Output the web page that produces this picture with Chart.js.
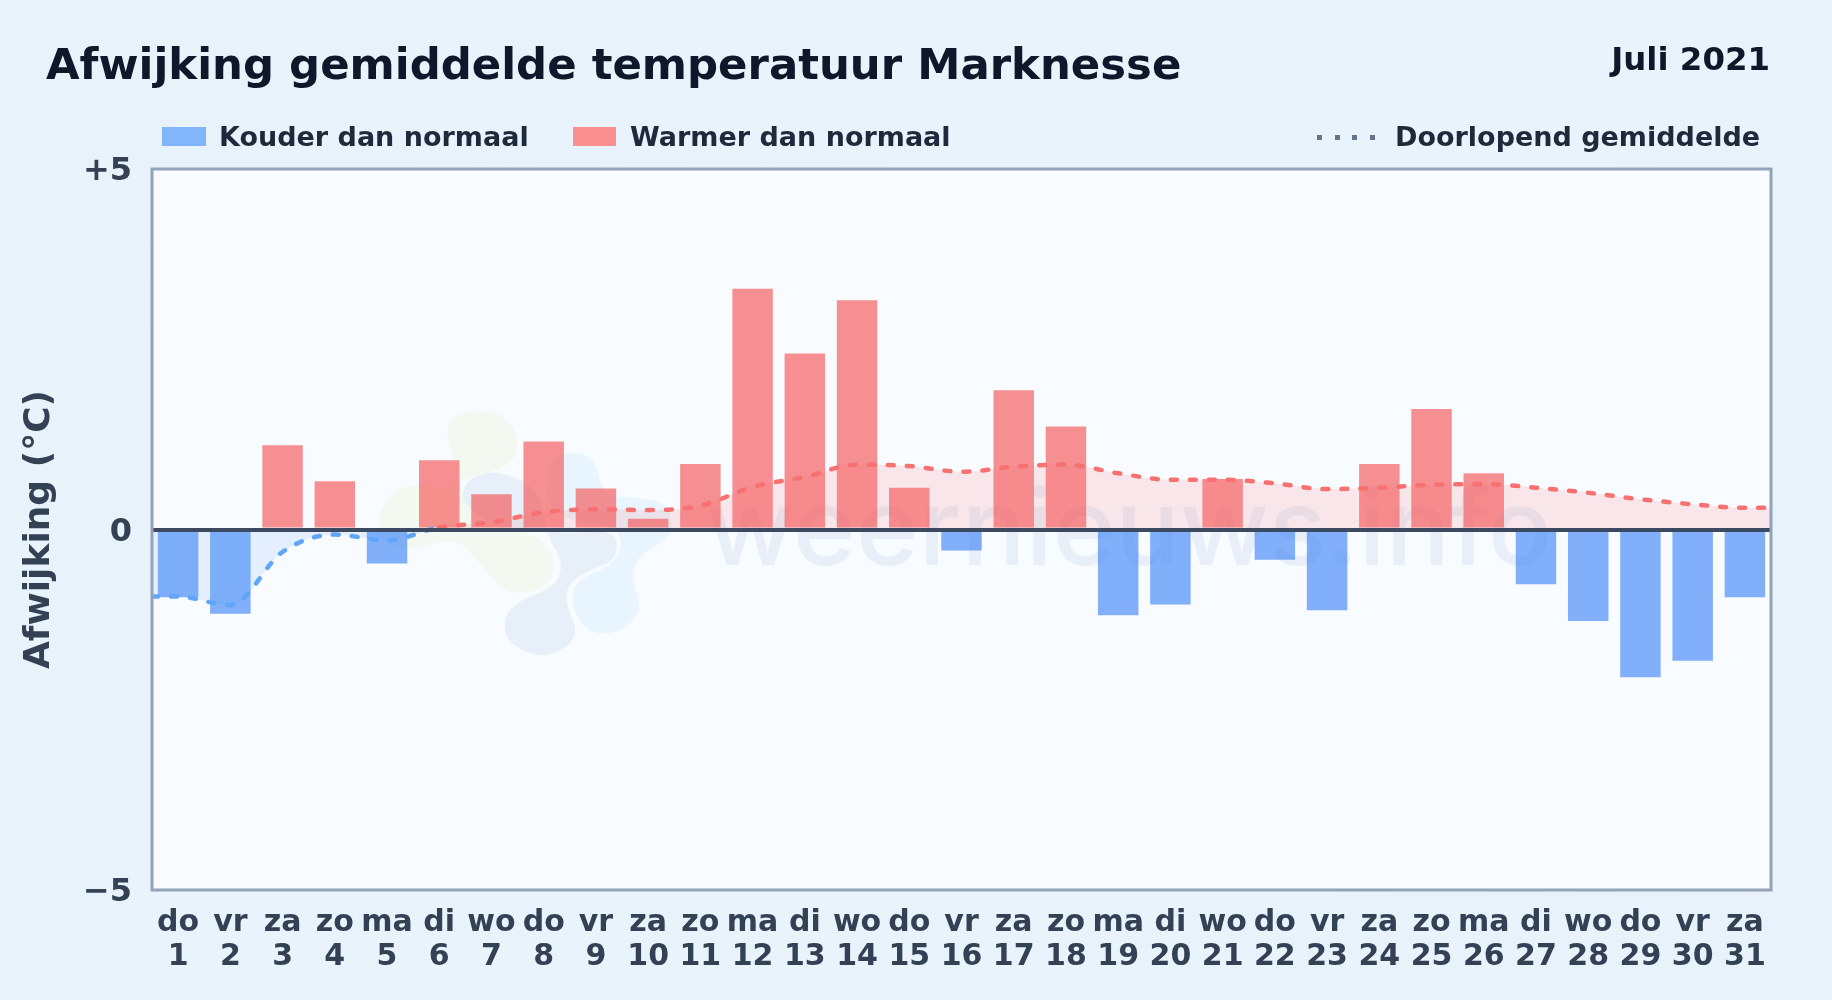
<!DOCTYPE html>
<html lang="nl">
<head>
<meta charset="utf-8">
<title>Afwijking gemiddelde temperatuur Marknesse</title>
<script src="https://cdn.jsdelivr.net/npm/chart.js@4"></script>
<style>
html,body{margin:0;padding:0;width:1832px;height:1000px;overflow:hidden;background:linear-gradient(135deg,#e7f2fb 0%,#e8f3fc 50%,#e7f2fb 100%);}
body{font-family:"DejaVu Sans",sans-serif;font-weight:700;position:relative;}
#wrap{position:absolute;left:0;top:0;width:1832px;height:1000px;}
.t{position:absolute;line-height:1;white-space:nowrap;}
.sw{position:absolute;}
#dots{position:absolute;left:1317px;top:135px;width:58px;height:5px;background:repeating-linear-gradient(90deg,#64748b 0 5px,transparent 5px 17.6px);}
</style>
</head>
<body>
<div id="wrap"><canvas id="c" width="1832" height="1000"></canvas></div>
<div class="t" style="left:46px;top:43px;font-size:43.4px;color:#0f172a">Afwijking gemiddelde temperatuur Marknesse</div>
<div class="t" style="right:62px;top:43px;font-size:32.4px;color:#0f172a">Juli 2021</div>
<div class="sw" style="left:162px;top:127px;width:44px;height:19px;background:#82b6fb"></div>
<div class="t" style="left:219px;top:123px;font-size:27px;color:#1e293b">Kouder dan normaal</div>
<div class="sw" style="left:573px;top:127px;width:43px;height:19px;background:#f98f90"></div>
<div class="t" style="left:630px;top:123px;font-size:27px;color:#1e293b">Warmer dan normaal</div>
<div id="dots"></div>
<div class="t" style="left:1395px;top:123px;font-size:27px;color:#1e293b">Doorlopend gemiddelde</div>
<script>
const weekdays = ["do","vr","za","zo","ma","di","wo","do","vr","za","zo","ma","di","wo","do","vr","za","zo","ma","di","wo","do","vr","za","zo","ma","di","wo","do","vr","za"];
const days = [1,2,3,4,5,6,7,8,9,10,11,12,13,14,15,16,17,18,19,20,21,22,23,24,25,26,27,28,29,30,31];
const deviations = [-0.94,-1.17,1.17,0.67,-0.47,0.96,0.49,1.22,0.57,0.15,0.91,3.34,2.44,3.18,0.58,-0.29,1.93,1.43,-1.19,-1.04,0.70,-0.42,-1.12,0.91,1.67,0.78,-0.76,-1.27,-2.05,-1.82,-0.94];
const runningMean = [-0.93,-1.05,-0.31,-0.07,-0.15,0.03,0.10,0.24,0.28,0.27,0.33,0.59,0.73,0.90,0.88,0.80,0.87,0.90,0.78,0.69,0.69,0.64,0.56,0.58,0.62,0.63,0.58,0.51,0.42,0.35,0.30];
const yTicks = {"5":"+5","0":"0","-5":"\u22125"};

const font = "'DejaVu Sans', sans-serif";
const BLUE_BAR = "rgba(59,130,246,0.63)", RED_BAR = "rgba(245,72,72,0.6)";
const BLUE_LINE = "#60a5fa", RED_LINE = "#f87171";

function blob(ctx, pts, color){
  ctx.beginPath();
  const n = pts.length;
  ctx.moveTo((pts[n-1][0]+pts[0][0])/2,(pts[n-1][1]+pts[0][1])/2);
  for(let i=0;i<n;i++){
    const a=pts[i], b=pts[(i+1)%n];
    ctx.quadraticCurveTo(a[0],a[1],(a[0]+b[0])/2,(a[1]+b[1])/2);
  }
  ctx.closePath(); ctx.fillStyle=color; ctx.fill();
}
const backdrop = {
  id:"backdrop",
  beforeDatasetsDraw(chart){
    const {ctx,chartArea:a}=chart;
    ctx.save();
    ctx.fillStyle="#f8fbff";
    ctx.fillRect(a.left,a.top,a.right-a.left,a.bottom-a.top);
    ctx.translate(360,390); ctx.scale(1/3,1/3);
    blob(ctx,[[255,120],[290,60],[450,70],[480,190],[420,240],[310,265],[280,295],[120,280],[50,370],[70,470],[160,480],[290,440],[370,530],[440,620],[570,590],[590,500],[520,430],[380,400],[300,300],[280,200]],"#f3f9f1");
    blob(ctx,[[700,190],[590,190],[560,240],[560,340],[640,400],[770,410],[790,470],[750,530],[650,570],[630,640],[680,730],[780,730],[850,660],[810,560],[840,490],[940,440],[930,340],[820,320],[730,320]],"#e9f5fe");
    blob(ctx,[[300,320],[340,370],[430,420],[540,420],[620,430],[770,420],[770,510],[700,535],[620,580],[620,650],[660,740],[560,810],[440,760],[430,680],[480,630],[590,590],[610,510],[560,440],[540,300],[420,240],[330,260]],"#e7f0f9");
    ctx.restore();
    ctx.save();
    ctx.font="500 107px Inter, 'Open Sans', sans-serif";
    ctx.fillStyle="rgba(40,100,180,0.075)";
    ctx.textBaseline="alphabetic"; ctx.textAlign="left";
    ctx.fillText("weernieuws.info",706,565);
    ctx.restore();
  },
  afterDraw(chart){
    const {ctx,chartArea:a}=chart;
    ctx.save();
    ctx.strokeStyle="#94a3b8"; ctx.lineWidth=3;
    ctx.strokeRect(a.left,a.top,a.right-a.left,a.bottom-a.top);
    ctx.restore();
  }
};

new Chart(document.getElementById("c"),{
  data:{
    labels:weekdays.map((w,i)=>[w,String(days[i])]),
    datasets:[
      {
        type:"line",
        label:"Doorlopend gemiddelde",
        order:0,
        xAxisID:"xLine",
        data:[{x:0.5,y:runningMean[0]},...runningMean.map((v,i)=>({x:days[i],y:v})),{x:31.5,y:runningMean[30]}],
        borderWidth:4.5,
        borderDash:[6,13],
        borderCapStyle:"round",
        cubicInterpolationMode:"monotone",
        pointRadius:0,
        borderColor:RED_LINE,
        segment:{borderColor:c=>(c.p0.parsed.y+c.p1.parsed.y)/2<0?BLUE_LINE:RED_LINE},
        fill:{target:{value:0},above:"rgba(248,113,113,0.15)",below:"rgba(96,165,250,0.14)"}
      },
      {
        type:"bar",label:"Kouder dan normaal",order:1,
        data:deviations.map(v=>v<0?v:null),
        backgroundColor:BLUE_BAR,grouped:false,categoryPercentage:1,barPercentage:0.775
      },
      {
        type:"bar",label:"Warmer dan normaal",order:1,
        data:deviations.map(v=>v>=0?v:null),
        backgroundColor:RED_BAR,grouped:false,categoryPercentage:1,barPercentage:0.775
      }
    ]
  },
  options:{
    responsive:false,animation:false,devicePixelRatio:1,
    layout:{padding:{left:0,top:169,right:61,bottom:0}},
    plugins:{legend:{display:false},title:{display:false},tooltip:{enabled:false}},
    scales:{
      x:{
        type:"category",offset:true,
        grid:{display:false},border:{display:false},
        ticks:{font:{family:font,weight:"700",size:30,lineHeight:1.14},color:"#334155",padding:8,maxRotation:0,minRotation:0,autoSkip:false},
        afterFit(s){s.height=110;}
      },
      xLine:{type:"linear",display:false,min:0.5,max:31.5},
      y:{
        min:-5,max:5,
        border:{display:false},
        grid:{z:1,drawTicks:false,tickLength:0,lineWidth:c=>c.tick.value===0?4:0,color:"#3b4a60"},
        ticks:{stepSize:5,padding:20,font:{family:font,weight:"700",size:32,lineHeight:"6px"},color:"#334155",callback:v=>["",yTicks[String(v)]]},
        title:{display:true,text:"Afwijking (\u00b0C)",font:{family:font,weight:"700",size:36},color:"#334155",padding:{top:18,bottom:0}},
        afterFit(s){s.width=152;}
      }
    }
  },
  plugins:[backdrop]
});
</script>
</body>
</html>
